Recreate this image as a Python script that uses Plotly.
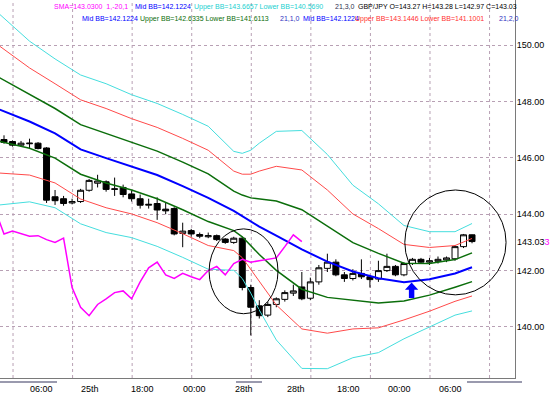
import plotly.graph_objects as go

# ---------------- data ----------------
bar_index = list(range(56))
opens  = [146.65,146.58,146.45,146.50,146.52,146.35,144.62,144.55,144.40,144.45,
          144.85,145.10,145.15,144.88,144.95,144.72,144.55,144.32,144.38,144.18,
          144.20,143.32,143.42,143.28,143.20,143.24,143.12,143.00,143.15,141.40,
          140.75,140.42,140.80,140.98,141.20,141.42,141.02,141.60,142.08,142.30,
          141.85,141.72,141.90,141.78,141.70,142.00,142.15,141.85,142.25,142.40,
          142.30,142.33,142.38,142.42,142.85,143.27]
highs  = [146.80,146.62,146.60,146.68,146.56,146.38,144.86,144.65,144.55,144.90,
          145.25,145.40,145.20,145.30,145.05,144.85,144.70,144.55,144.60,144.40,
          144.25,143.70,143.48,143.35,143.35,143.28,143.15,143.20,143.20,141.50,
          140.95,140.90,141.05,141.30,141.50,141.95,141.75,142.20,142.60,142.40,
          141.95,142.05,142.40,141.85,142.35,142.60,142.20,142.30,142.45,142.45,
          142.45,142.50,142.50,142.90,143.30,143.28]
lows   = [146.50,146.40,146.40,146.35,146.30,144.40,144.33,144.30,144.35,144.40,
          144.80,144.95,144.80,144.65,144.60,144.45,144.20,144.20,143.80,144.00,
          143.25,142.83,143.20,143.15,143.15,143.05,142.95,142.95,141.30,139.70,
          140.30,140.35,140.70,140.90,141.10,140.95,140.95,141.50,141.95,141.80,
          141.60,141.65,141.70,141.40,141.60,141.95,141.80,141.80,142.20,142.25,
          142.20,142.25,142.30,142.35,142.80,142.97]
closes = [146.55,146.45,146.52,146.52,146.33,144.50,144.48,144.38,144.45,144.85,
          145.20,145.18,144.88,144.90,144.70,144.55,144.32,144.35,144.15,144.12,
          143.30,143.40,143.30,143.22,143.24,143.10,143.00,143.15,141.40,140.70,
          140.40,140.80,141.00,141.22,141.28,141.00,141.60,142.10,142.30,141.85,
          141.72,141.90,141.78,141.68,142.00,142.15,141.85,142.25,142.40,142.30,
          142.35,142.40,142.45,142.85,143.27,143.03]

# SMA(1, shift -20) line (magenta)
sma_index = list(range(-1, 36))
sma_vals = [144.12,143.30,143.40,143.30,143.22,143.24,143.10,143.00,143.15,141.40,
            140.70,140.40,140.80,141.00,141.22,141.28,141.00,141.60,142.10,142.30,
            141.85,141.72,141.90,141.78,141.68,142.00,142.15,141.85,142.25,142.40,
            142.30,142.35,142.40,142.45,142.85,143.27,143.03]

# Bollinger band lines, sampled along the bars
bb_index = [-0.5,3,6,9,12,15,18,21,24,27,28,29,30,32,35,38,41,44,47,50,53,55]
bb_mid   = [147.71,147.29,146.87,146.30,145.99,145.70,145.39,145.00,144.58,144.12,143.94,
            143.73,143.56,143.24,142.75,142.32,141.97,141.73,141.59,141.69,141.90,142.12]
bb1_up   = [148.84,148.24,147.75,147.18,146.87,146.55,146.24,145.85,145.43,144.82,144.68,
            144.58,144.55,144.47,144.16,143.59,142.99,142.61,142.26,142.25,142.39,142.63]
bb1_lo   = [146.58,146.34,145.99,145.42,145.11,144.86,144.55,144.16,143.74,143.42,143.20,
            142.89,142.57,142.01,141.34,141.05,140.95,140.85,140.92,141.13,141.41,141.61]
bb2_up   = [149.96,149.19,148.63,148.06,147.75,147.39,147.08,146.69,146.27,145.53,145.42,
            145.42,145.53,145.70,145.57,144.86,144.01,143.49,142.93,142.82,142.89,143.14]
bb2_lo   = [145.46,145.39,145.11,144.54,144.23,144.01,143.70,143.31,142.89,142.71,142.46,
            142.04,141.59,140.78,139.93,139.78,139.93,139.97,140.25,140.56,140.91,141.10]
bb3_up   = [151.09,150.14,149.51,148.94,148.63,148.24,147.93,147.54,147.12,146.23,146.16,
            146.27,146.52,146.94,146.97,146.12,145.03,144.37,143.60,143.38,143.38,143.67]
bb3_lo   = [144.33,144.44,144.23,143.66,143.35,143.17,142.86,142.47,142.05,142.01,141.72,
            141.20,140.60,139.54,138.53,138.52,138.91,139.09,139.58,140.00,140.42,140.57]

price_ticks = [140, 142, 144, 146, 148, 150]
time_labels = ["06:00", "25th", "18:00", "00:00", "28th", "28th", "18:00", "00:00", "06:00"]
time_label_pos = [4.35, 10.1, 16.3, 22.4, 28.2, 34.3, 40.5, 46.5, 52.5]
grid_pos = [1.06, 8.06, 15.06, 22.06, 29.06, 36.06, 43.06, 50.06, 57.06]
last_price = 143.03

# ---------------- figure ----------------
FONT = "Liberation Sans, Arial, sans-serif"
fig = go.Figure()

fig.add_trace(go.Candlestick(
    x=bar_index, open=opens, high=highs, low=lows, close=closes,
    increasing=dict(fillcolor="white", line=dict(color="black", width=1)),
    decreasing=dict(fillcolor="black", line=dict(color="black", width=1)),
    whiskerwidth=0, showlegend=False, hoverinfo="skip"))

def add_line(x, y, color, width):
    fig.add_trace(go.Scatter(x=x, y=y, mode="lines", line=dict(color=color, width=width),
                             showlegend=False, hoverinfo="skip"))

add_line(bb_index, bb3_up, "#45dede", 1)
add_line(bb_index, bb3_lo, "#45dede", 1)
add_line(bb_index, bb2_up, "#ff4a4a", 1)
add_line(bb_index, bb2_lo, "#ff4a4a", 1)
add_line(bb_index, bb1_up, "#0b6e0b", 1.5)
add_line(bb_index, bb1_lo, "#0b6e0b", 1.5)
add_line(bb_index, bb_mid, "#0000ff", 2)
add_line(sma_index, sma_vals, "#ff00ff", 1.5)

shapes = []
for g in grid_pos:
    shapes.append(dict(type="line", xref="x", yref="paper", x0=g, x1=g, y0=0, y1=1,
                       line=dict(color="#b8a0b4", width=1, dash="dot"), layer="below"))
# highlight ellipses
shapes.append(dict(type="circle", xref="x", yref="y", x0=24.1, x1=32.2, y0=140.47, y1=143.48,
                   line=dict(color="black", width=1)))
shapes.append(dict(type="circle", xref="x", yref="y", x0=47.1, x1=59.0, y0=141.14, y1=144.86,
                   line=dict(color="black", width=1)))
# blue up arrow
shapes.append(dict(type="path", xref="x", yref="y",
                   path="M 47.9,141.58 L 48.68,141.32 L 48.22,141.32 L 48.22,141.03 "
                        "L 47.58,141.03 L 47.58,141.32 L 47.12,141.32 Z",
                   fillcolor="#0000ff", line=dict(color="#0000ff", width=0)))
# grey separator bars under the time axis
for a, b in [(0, 57), (236, 262), (467, 522)]:
    shapes.append(dict(type="line", xref="paper", yref="paper", x0=a/515, x1=b/515,
                       y0=-0.0106, y1=-0.0106, line=dict(color="#9a9aae", width=2)))

annotations = []
for lab, pos in zip(time_labels, time_label_pos):
    annotations.append(dict(x=pos, y=0, xref="x", yref="paper", text=lab, showarrow=False,
                            xanchor="center", yanchor="top", yshift=-4,
                            font=dict(family=FONT, size=9, color="black")))
annotations.append(dict(x=1, y=last_price, xref="paper", yref="y",
                        text='143.03<span style="color:#ff00ff">3</span>', showarrow=False,
                        xanchor="left", yanchor="middle", xshift=0,
                        font=dict(family=FONT, size=9, color="black")))

legend_rows = [
    (7, [(52, "SMA=143.0300  1,-20,1", "#ff00ff"),
         (133, "Mid BB=142.1224", "#0000ff"),
         (192, "Upper BB=143.6657 Lower BB=140.5690", "#22d0d0"),
         (333, "21,3,0", "#303050"),
         (356, "GBP/JPY O=143.27 H=143.28 L=142.97 C=143.03", "black")]),
    (19, [(80, "Mid BB=142.1224", "#0000ff"),
          (138, "Upper BB=142.6335 Lower BB=141.6113", "#0b6e0b"),
          (278, "21,1,0", "#3030c0"),
          (301, "Mid BB=142.1224", "#0000ff"),
          (353, "Upper BB=143.1446 Lower BB=141.1001", "#ff3030"),
          (497, "21,2,0", "#3030c0")]),
]
for py, items in legend_rows:
    for px, txt, col in items:
        annotations.append(dict(x=px/515, y=1 - py/378, xref="paper", yref="paper", text=txt,
                                showarrow=False, xanchor="left", yanchor="middle",
                                font=dict(family=FONT, size=7, color=col)))

fig.update_layout(
    width=552, height=397,
    margin=dict(l=0, r=37, t=0, b=19, pad=0),
    paper_bgcolor="white", plot_bgcolor="white",
    showlegend=False, hovermode=False,
    shapes=shapes, annotations=annotations,
    boxgap=0.3, boxgroupgap=0,
    xaxis=dict(range=[-0.47, 60.05], showgrid=False, zeroline=False, showticklabels=False,
               ticks="", showline=True, linecolor="#7a7a7a", linewidth=1,
               rangeslider=dict(visible=False), fixedrange=True),
    yaxis=dict(side="right", range=[138.19, 151.60], tickvals=price_ticks,
               ticktext=[f"{v:.2f}" for v in price_ticks],
               showgrid=True, gridcolor="#b8a0b4", griddash="dot", gridwidth=1,
               zeroline=False, ticks="", showline=True, linecolor="#7a7a7a", linewidth=1,
               tickfont=dict(family=FONT, size=9, color="black"), ticklabelstandoff=-1,
               fixedrange=True),
)

fig.write_html("out.html", config={"displayModeBar": False},
               post_script="document.body.style.margin='0';")
